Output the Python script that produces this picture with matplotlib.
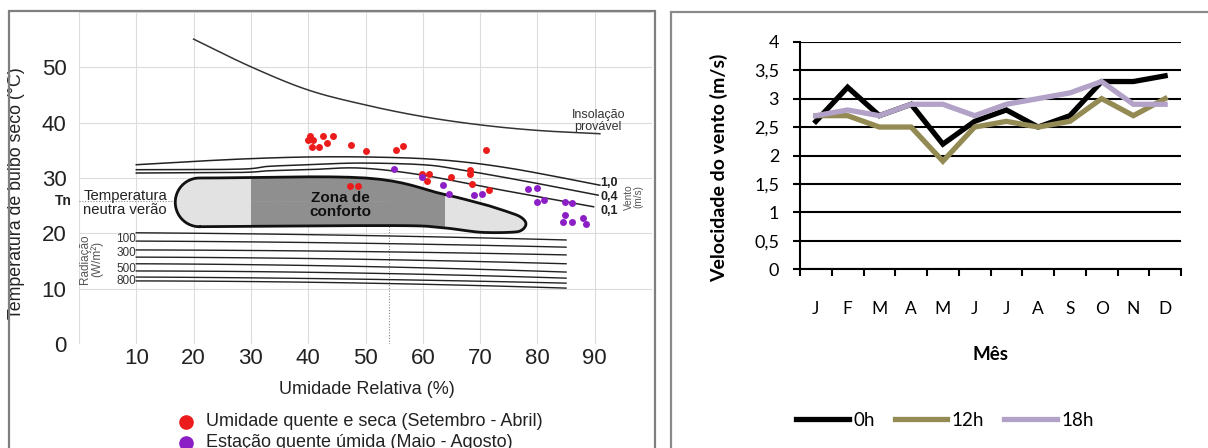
import numpy as np
import matplotlib
matplotlib.use("Agg")
import matplotlib.pyplot as plt
from matplotlib.patches import Rectangle, PathPatch
from matplotlib.path import Path
from matplotlib.lines import Line2D

# ---------------- bioclimatic chart data ----------------
rh_dry = [40.0, 40.4, 40.8, 40.6, 41.9, 42.5, 43.2, 44.4, 47.5, 50.0, 55.4, 56.6,
          71.1, 47.3, 48.7, 59.9, 61.1, 60.8, 64.9, 68.3, 68.3, 68.5, 71.6]
t_dry = [36.8, 37.5, 36.8, 35.6, 35.6, 37.5, 36.3, 37.5, 36.0, 34.8, 35.1, 35.7,
         35.1, 28.6, 28.6, 30.7, 30.8, 29.4, 30.1, 31.5, 30.8, 28.9, 27.8]
rh_wet = [54.9, 59.8, 63.5, 64.5, 68.9, 70.4, 78.3, 79.9, 79.9, 81.2, 84.8, 86.1,
          84.8, 84.5, 86.1, 87.9, 88.5]
t_wet = [31.6, 30.1, 28.8, 27.1, 26.9, 27.1, 28.0, 28.2, 25.6, 26.0, 25.6, 25.4,
         23.3, 22.0, 22.0, 22.7, 21.7]

label_dry = "Umidade quente e seca (Setembro - Abril)"
label_wet = "Estação quente úmida (Maio - Agosto)"

# probable insolation boundary
insol_rh = [20, 30, 40, 50, 60, 70, 80, 90.9]
insol_t = [55.1, 50.1, 45.9, 43.2, 41.1, 39.6, 38.6, 38.0]

# wind-speed boundaries (m/s)
wind_labels = ["1,0", "0,4", "0,1"]
wind_label_t = [29.1, 26.6, 24.05]
wind_rh = [
    [10, 20, 30, 40, 50, 60, 68, 75, 82, 90.9],
    [10, 28, 33, 40, 49, 60, 66.5, 78, 90.6],
    [10, 28, 33, 40, 49, 59.5, 72.3, 89.8],
]
wind_t = [
    [32.4, 33.0, 33.5, 33.8, 33.8, 33.5, 32.8, 31.8, 30.5, 28.7],
    [31.5, 31.6, 32.1, 32.4, 32.7, 32.4, 31.5, 29.4, 26.9],
    [30.9, 31.0, 31.3, 31.5, 31.8, 30.6, 28.1, 24.8],
]

# radiation lines (W/m²): temperature at RH 10, 50 and 85
rad_labels = ["100", "300", "500", "800"]
rad_label_t = [19.0, 16.4, 13.5, 11.3]
rad_rh = [10, 50, 85]
rad_t = [
    [20.1, 19.6, 18.8],
    [18.6, 18.2, 17.5],
    [17.0, 16.7, 16.1],
    [15.7, 15.3, 14.5],
    [14.5, 14.0, 13.0],
    [13.2, 12.8, 11.9],
    [12.1, 11.7, 11.0],
    [11.4, 11.0, 10.1],
]

# comfort zone outline (RH, T)
comfort_rh = [50.0, 63.5, 71.2, 74.5, 77.0, 78.0, 77.3, 75.5, 70.0, 63.5, 55.0, 21.0]
comfort_t = [30.0, 27.1, 25.1, 24.0, 23.0, 21.8, 20.6, 20.2, 20.2, 21.0, 21.4, 21.2]
comfort_split = [30.0, 63.8]
t_neutral = 25.86
rh_neutral = 54.1

# ---------------- wind speed data ----------------
months = ["J", "F", "M", "A", "M", "J", "J", "A", "S", "O", "N", "D"]
v_0h = [2.6, 3.2, 2.7, 2.9, 2.2, 2.6, 2.8, 2.5, 2.7, 3.3, 3.3, 3.4]
v_12h = [2.7, 2.7, 2.5, 2.5, 1.9, 2.5, 2.6, 2.5, 2.6, 3.0, 2.7, 3.0]
v_18h = [2.7, 2.8, 2.7, 2.9, 2.9, 2.7, 2.9, 3.0, 3.1, 3.3, 2.9, 2.9]
series_names = ["0h", "12h", "18h"]
series_colors = ["#000000", "#948a54", "#b3a2c7"]


def catmull(xs, ys, n=20):
    """Smooth curve through control points (Catmull-Rom)."""
    p = np.column_stack([xs, ys]).astype(float)
    p = np.vstack([2 * p[0] - p[1], p, 2 * p[-1] - p[-2]])
    out = []
    t = np.linspace(0, 1, n, endpoint=False)[:, None]
    for i in range(1, len(p) - 2):
        p0, p1, p2, p3 = p[i - 1], p[i], p[i + 1], p[i + 2]
        seg = 0.5 * ((2 * p1) + (-p0 + p2) * t + (2 * p0 - 5 * p1 + 4 * p2 - p3) * t ** 2
                     + (-p0 + 3 * p1 - 3 * p2 + p3) * t ** 3)
        out.append(seg)
    out.append(p[-2][None, :])
    out = np.vstack(out)
    return out[:, 0], out[:, 1]


W, H = 1208, 448
fig = plt.figure(figsize=(W / 100, H / 100), dpi=100)
SANS = ["Liberation Sans", "DejaVu Sans"]
INK = "#222222"

# panel frames
fig.add_artist(Rectangle((9 / W, -0.05), 646 / W, 1.05 - 11 / H, transform=fig.transFigure,
                         fill=False, edgecolor="#7f7f7f", lw=1.6))
fig.add_artist(Rectangle((671 / W, -0.05), 0.5, 1.05 - 12 / H, transform=fig.transFigure,
                         fill=False, edgecolor="#8a8a8a", lw=1.6))

# ================= left panel =================
ax = fig.add_axes([79 / W, 1 - 344 / H, 573 / W, 332 / H])
ax.set_xlim(0, 100)
ax.set_ylim(0, 60)
for s in ax.spines.values():
    s.set_visible(False)
ax.set_xticks(range(0, 101, 10))
ax.set_yticks(range(0, 61, 10))
ax.set_xticklabels([""] + [str(v) for v in range(10, 100, 10)] + [""],
                   fontsize=16, family=SANS, color=INK)
ax.set_yticklabels([str(v) for v in range(0, 60, 10)] + [""],
                   fontsize=16, family=SANS, color=INK)
ax.tick_params(axis="x", length=0, pad=3)
ax.tick_params(axis="y", length=0, pad=9)
ax.grid(True, color="#dcdcdc", lw=0.8)
ax.set_axisbelow(True)

ax.set_xlabel("Umidade Relativa (%)", fontsize=13, family=SANS, color=INK)
ax.xaxis.set_label_coords(0.503, -0.112)
ax.set_ylabel("Temperatura de bulbo seco (°C)", fontsize=12.8, family=SANS, color=INK)
ax.yaxis.set_label_coords(-0.094, 0.453)

# neutral temperature guides
ax.plot([0, rh_neutral], [t_neutral, t_neutral], ls=(0, (1, 1.5)), color="#8a8a8a", lw=0.8, zorder=1)
ax.plot([rh_neutral, rh_neutral], [0, t_neutral], ls=(0, (1, 1.5)), color="#8a8a8a", lw=0.8, zorder=1)

# comfort zone shape: rounded left end + outline
cx, cy = comfort_rh[-1], (comfort_t[0] + comfort_t[-1]) / 2
rx, ry = 4.2, (comfort_t[0] - comfort_t[-1]) / 2
ang = np.linspace(np.pi / 2, 3 * np.pi / 2, 40)
arc_x = cx + rx * np.cos(ang)
arc_y = cy + ry * np.sin(ang)
body_x, body_y = catmull([cx] + comfort_rh[:3], [comfort_t[0]] + comfort_t[:3], n=8)
tip_x, tip_y = catmull(comfort_rh[2:], comfort_t[2:], n=8)
verts = np.column_stack([
    np.concatenate([body_x, tip_x[1:], arc_x[::-1]]),
    np.concatenate([body_y, tip_y[1:], arc_y[::-1]]),
])
verts = np.vstack([verts, verts[:1]])
comfort_path = Path(verts)
ax.add_patch(PathPatch(comfort_path, facecolor="none", edgecolor="#111111", lw=2.0, zorder=4))
fills = [(0, comfort_split[0], "#e2e2e2"), (comfort_split[0], comfort_split[1], "#8f8f8f"),
         (comfort_split[1], 100, "#e2e2e2")]
for x0, x1, col in fills:
    r = Rectangle((x0, 0), x1 - x0, 60, facecolor=col, edgecolor="none", zorder=2)
    ax.add_patch(r)
    r.set_clip_path(PathPatch(comfort_path, transform=ax.transData))
ax.plot([comfort_split[0], rh_neutral], [t_neutral, t_neutral], ls=(0, (1, 1.5)),
        color="#9c9c9c", lw=0.7, zorder=3)
ax.text(45.6, 25.1, "Zona de\nconforto", ha="center", va="center", fontsize=11,
        fontweight="bold", family=SANS, color="#111111", linespacing=1.0, zorder=5)
ax.text(0.75, 25.5, "Temperatura\nneutra verão", ha="left", va="center", fontsize=10.7,
        family=SANS, color=INK, linespacing=1.0, zorder=5)
ax.text(-2.7, t_neutral, "Tn", ha="center", va="center", fontsize=10, fontweight="bold",
        family=SANS, color=INK, clip_on=False)

# insolation curve
ix, iy = catmull(insol_rh, insol_t)
ax.plot(ix, iy, color="#333333", lw=1.1, zorder=3)
ax.text(90.6, 40.3, "Insolação\nprovável", ha="center", va="center", fontsize=9,
        family=SANS, color="#333333", linespacing=1.1)

# wind lines
for xs, ys, lab, ty in zip(wind_rh, wind_t, wind_labels, wind_label_t):
    wx, wy = catmull(xs, ys)
    ax.plot(wx, wy, color=INK, lw=1.1, zorder=3)
    ax.text(91.0, ty, lab, ha="left", va="center", fontsize=9,
            fontweight="bold", family=SANS, color=INK)
ax.text(96.8, 26.6, "Vento\n(m/s)", ha="center", va="center", rotation=90,
        fontsize=7.2, family=SANS, color="#555555", linespacing=1.0)

# radiation lines
for ys in rad_t:
    coef = np.polyfit(rad_rh, ys, 2)
    rx_ = np.linspace(rad_rh[0], rad_rh[-1], 60)
    ax.plot(rx_, np.polyval(coef, rx_), color=INK, lw=1.0, zorder=3)
for lab, ty in zip(rad_labels, rad_label_t):
    ax.text(10.0, ty, lab, ha="right", va="center", fontsize=8.5,
            family=SANS, color="#333333")
ax.text(2.1, 15.4, "Radiação\n(W/m²)", ha="center", va="center", rotation=90,
        fontsize=8.5, family=SANS, color="#555555", linespacing=1.0)

# measured points
ax.scatter(rh_dry, t_dry, s=25, color="#ec1c1c", zorder=6, linewidths=0)
ax.scatter(rh_wet, t_wet, s=25, color="#8c1ec6", zorder=6, linewidths=0)

# legend rows
for (lab, col), ypx in zip([(label_dry, "#ec1c1c"), (label_wet, "#8c1ec6")], [421.5, 442.5]):
    fig.add_artist(Line2D([186 / W], [1 - ypx / H], marker="o", ls="none", color=col,
                          markersize=9.5, transform=fig.transFigure))
    fig.text(206 / W, 1 - ypx / H, lab, ha="left", va="center", fontsize=13,
             family=SANS, color=INK)

# ================= right panel =================
LATO = ["Lato", "DejaVu Sans"]
ax2 = fig.add_axes([800 / W, 1 - 269.3 / H, 381 / W, 227.6 / H])
x = np.arange(len(months))
for vals, name, col in zip([v_0h, v_12h, v_18h], series_names, series_colors):
    ax2.plot(x, vals, color=col, lw=3.8, label=name, solid_joinstyle="miter")
ax2.set_xlim(-0.5, len(months) - 0.5)
ax2.set_ylim(0, 4)
ax2.set_yticks(np.arange(0, 4.01, 0.5))
ax2.set_yticklabels(["0", "0,5", "1", "1,5", "2", "2,5", "3", "3,5", "4"],
                    fontsize=13, family=LATO)
ax2.yaxis.grid(True, color="black", lw=1.5)
ax2.set_axisbelow(True)
for k in ["top", "right"]:
    ax2.spines[k].set_visible(False)
ax2.spines["left"].set_linewidth(1.5)
ax2.spines["bottom"].set_linewidth(1.5)
ax2.tick_params(axis="y", length=5, width=1.5, pad=10)
ax2.set_xticks(np.arange(-0.5, len(months)))
ax2.set_xticklabels([])
ax2.tick_params(axis="x", length=5.3, width=1.5, direction="out")
for i, m in enumerate(months):
    ax2.text(i, -0.69, m, ha="center", va="center", fontsize=12.5, family=LATO)
ax2.text(5.5, -1.506, "Mês", ha="center", va="center", fontsize=13.5, fontweight="bold",
         family=LATO)
ax2.set_ylabel("Velocidade do vento (m/s)", fontsize=14, fontweight="bold", family=LATO)
ax2.yaxis.set_label_coords(-0.19, 0.447)
fig.legend(*ax2.get_legend_handles_labels(), loc="center", bbox_to_anchor=(945 / W, 1 - 420 / H),
           ncol=3, frameon=False, prop={"family": LATO, "size": 13.5}, handlelength=2.8,
           handletextpad=0.25, columnspacing=1.05)

fig.savefig("out.png", dpi=100)
